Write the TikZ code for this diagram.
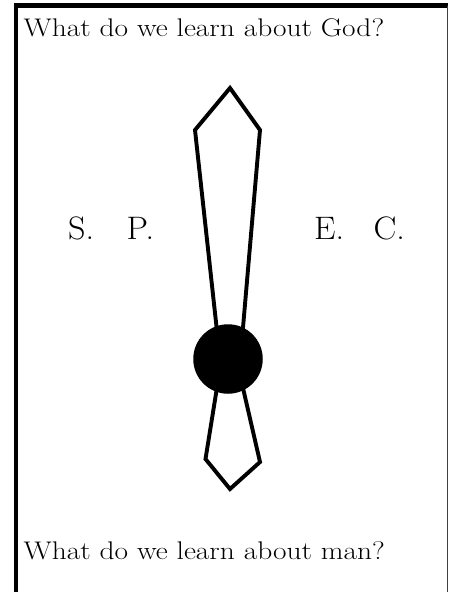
\documentclass[tikz,border=0pt]{standalone}
\begin{document}
\begin{tikzpicture}[x=1pt,y=-1pt,
  question/.style={anchor=base west,inner sep=0pt,font=\fontsize{25.5}{30}\selectfont,xscale=1.153,transform shape},
  letters/.style={anchor=base west,inner sep=0pt,font=\fontsize{32.5}{36}\selectfont,xscale=1.05,transform shape},
  outline/.style={line width=3.9pt,line join=miter,black},
  frame/.style={black}]
\useasboundingbox (0,0) rectangle (449,592);
% frame
\coordinate (ftr) at (447.5,5.5);
\coordinate (fbr) at (447.5,592);
\coordinate (fbl) at (16,592);
\draw[frame,line width=4pt] (fbl) -- (16,3.5);
\draw[frame,line width=4.5pt] (14,5.5) -- (448.3,5.5);
\draw[frame,line width=1.5pt,black!75] (ftr) -- (fbr);
% texts
\node[question] (god) at (23.5,36) {What do we learn about God?};
\node[question] (man) at (23.5,559) {What do we learn about man?};
\node[letters] (sp) at (68,239) {S.\hspace{31pt}P.};
\node[letters] (ec) at (314,239) {E.\hspace{28pt}C.};
% upper blade
\coordinate (ul) at (218.5,345);
\coordinate (ur) at (241.5,345);
\coordinate (sl) at (195,130);
\coordinate (sr) at (260,130);
\coordinate (tip) at (230,88);
\draw[outline] (ul) -- (sl) -- (tip) -- (sr) -- (ur);
% lower blade
\coordinate (ll) at (219,375);
\coordinate (lr) at (240,375);
\coordinate (bl) at (205.5,459);
\coordinate (br) at (260,462);
\coordinate (bot) at (230,489);
\draw[outline] (ll) -- (bl) -- (bot) -- (br) -- (lr);
% hub
\node[circle,fill=black,minimum size=69.5pt,inner sep=0pt] (hub) at (228,359) {};
\end{tikzpicture}
\end{document}
